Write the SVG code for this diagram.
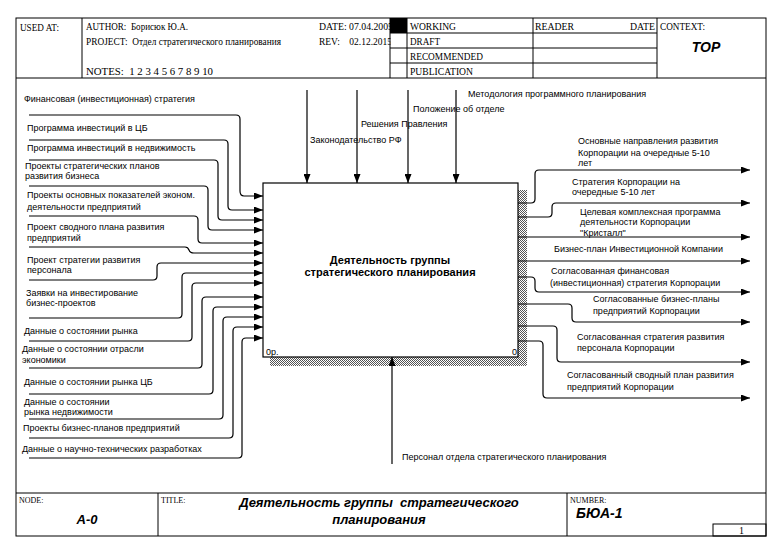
<svg xmlns="http://www.w3.org/2000/svg" width="781" height="553" viewBox="0 0 781 553">
<style>
.fr{fill:none;stroke:#000;stroke-width:1}
.hd{font-family:"Liberation Serif","Times New Roman",serif;font-size:10px;fill:#000}
.sm{font-family:"Liberation Serif","Times New Roman",serif;font-size:8px;fill:#000}
.lb{font-family:"Liberation Sans",Arial,sans-serif;font-size:9px;fill:#000}
.bt{font-family:"Liberation Sans",Arial,sans-serif;font-size:11px;font-weight:bold;fill:#000;text-anchor:middle}
.bi{font-family:"Liberation Sans",Arial,sans-serif;font-weight:bold;font-style:italic;fill:#000}
.cn{fill:none;stroke:#000;stroke-width:1.2}
</style>
<defs>
<marker id="ah" markerWidth="9" markerHeight="7" refX="9" refY="3.5" orient="auto" markerUnits="userSpaceOnUse"><path d="M0,0 L9,3.5 L0,7 z" fill="#000"/></marker>
<pattern id="dots" width="2" height="2" patternUnits="userSpaceOnUse"><rect width="2" height="2" fill="#fff"/><rect width="1" height="1" fill="#555"/><rect x="1" y="1" width="1" height="1" fill="#555"/></pattern>
</defs>
<rect width="781" height="553" fill="#fff"/>

<g id="frame">
<text class="hd" x="20" y="31" textLength="39" lengthAdjust="spacingAndGlyphs">USED AT:</text>
<text class="hd" x="86" y="30" textLength="102" lengthAdjust="spacingAndGlyphs" xml:space="preserve">AUTHOR:  Борисюк Ю.А.</text>
<text class="hd" x="86" y="45" textLength="195" lengthAdjust="spacingAndGlyphs" xml:space="preserve">PROJECT:  Отдел стратегического планирования</text>
<text class="hd" x="86" y="75" textLength="127" lengthAdjust="spacingAndGlyphs" xml:space="preserve">NOTES:  1 2 3 4 5 6 7 8 9 10</text>
<text class="hd" x="319" y="30" textLength="74" lengthAdjust="spacingAndGlyphs">DATE: 07.04.2005</text>
<text class="hd" x="319" y="45" textLength="73" lengthAdjust="spacingAndGlyphs" xml:space="preserve">REV:    02.12.2015</text>
<rect x="390" y="18" width="17" height="15" fill="#000"/>
<rect x="390.5" y="33.5" width="16" height="44" fill="#fff"/>
<text class="hd" x="410" y="30" textLength="46" lengthAdjust="spacingAndGlyphs">WORKING</text>
<text class="hd" x="410" y="45" textLength="30" lengthAdjust="spacingAndGlyphs">DRAFT</text>
<text class="hd" x="410" y="60" textLength="73" lengthAdjust="spacingAndGlyphs">RECOMMENDED</text>
<text class="hd" x="410" y="75" textLength="63" lengthAdjust="spacingAndGlyphs">PUBLICATION</text>
<text class="hd" x="535" y="30" textLength="39" lengthAdjust="spacingAndGlyphs">READER</text>
<text class="hd" x="630" y="30" textLength="25" lengthAdjust="spacingAndGlyphs">DATE</text>
<text class="hd" x="660" y="30" textLength="45" lengthAdjust="spacingAndGlyphs">CONTEXT:</text>
<text class="bi" x="706" y="52" font-size="14" text-anchor="middle">TOP</text>
<rect class="fr" x="16" y="18" width="750" height="518"/>
<path class="fr" d="M16 78H766M82 18V78M390 18V78M407 18V78M533 18V78M657 18V78M390 33H657M390 48H657M390 63H657"/>
<path class="fr" d="M16 493H766M158 493V536M567 493V536"/>
<rect class="fr" x="713" y="524" width="53" height="12"/>
<text class="sm" x="19" y="503">NODE:</text>
<text class="bi" x="87" y="524" font-size="13" text-anchor="middle">A-0</text>
<text class="sm" x="161" y="503">TITLE:</text>
<text class="bi" x="379" y="507" font-size="13" text-anchor="middle" xml:space="preserve">Деятельность группы  стратегического</text>
<text class="bi" x="379" y="524" font-size="13" text-anchor="middle">планирования</text>
<text class="sm" x="570" y="503">NUMBER:</text>
<text class="bi" x="576" y="518" font-size="14">БЮА-1</text>
<text class="hd" x="739" y="534">1</text>
</g>

<g id="node-A0">
<rect x="270" y="190" width="257" height="176" fill="url(#dots)"/>
<rect x="263" y="183" width="255" height="174" fill="#fff" stroke="#000" stroke-width="1.2"/>
<text class="bt" x="390" y="264">Деятельность группы</text>
<text class="bt" x="390" y="276">стратегического планирования</text>
<text class="lb" x="266" y="355" font-size="8">0р.</text>
<text class="lb" x="512" y="355" font-size="8">0</text>
</g>

<g id="connectors">
<path class="cn" marker-end="url(#ah)" d="M307 90V183"/>
<path class="cn" marker-end="url(#ah)" d="M357 90V183"/>
<path class="cn" marker-end="url(#ah)" d="M408 90V183"/>
<path class="cn" marker-end="url(#ah)" d="M456 90V183"/>
<path class="cn" marker-end="url(#ah)" d="M392 464V357"/>
<path class="cn" marker-end="url(#ah)" d="M29 115H236Q240 115 240 119V191Q240 196 244 196H263"/>
<path class="cn" marker-end="url(#ah)" d="M29 140H224Q228 140 228 144V206Q228 210 232 210H263"/>
<path class="cn" marker-end="url(#ah)" d="M29 160H214Q218 160 218 164V216Q218 220 222 220H263"/>
<path class="cn" marker-end="url(#ah)" d="M29 186H204Q208 186 208 190V226Q208 230 212 230H263"/>
<path class="cn" marker-end="url(#ah)" d="M29 216H194Q198 216 198 220V239Q198 243 202 243H263"/>
<path class="cn" marker-end="url(#ah)" d="M29 247H185Q188 247 189 250Q190 253 194 253H263"/>
<path class="cn" marker-end="url(#ah)" d="M29 280H153Q157 280 157 276V267Q157 263 161 263H263"/>
<path class="cn" marker-end="url(#ah)" d="M29 318H178Q182 318 182 314V277Q182 273 186 273H263"/>
<path class="cn" marker-end="url(#ah)" d="M29 341H188Q192 341 192 337V287Q192 283 196 283H263"/>
<path class="cn" marker-end="url(#ah)" d="M29 368H198Q202 368 202 364V301Q202 297 206 297H263"/>
<path class="cn" marker-end="url(#ah)" d="M29 394H209Q213 394 213 390V311Q213 307 217 307H263"/>
<path class="cn" marker-end="url(#ah)" d="M29 419H219Q223 419 223 415V321Q223 317 227 317H263"/>
<path class="cn" marker-end="url(#ah)" d="M29 438H229Q233 438 233 434V331Q233 327 237 327H263"/>
<path class="cn" marker-end="url(#ah)" d="M29 458H238Q242 458 242 454V342Q242 338 246 338H263"/>
<path class="cn" marker-end="url(#ah)" d="M518 203H531Q535 203 535 199V174Q535 170 539 170H750"/>
<path class="cn" marker-end="url(#ah)" d="M518 217H548Q552 217 552 213V207Q552 203 556 203H750"/>
<path class="cn" marker-end="url(#ah)" d="M518 237H750"/>
<path class="cn" marker-end="url(#ah)" d="M518 261H750"/>
<path class="cn" marker-end="url(#ah)" d="M518 277H531Q535 277 535 281V288Q535 292 539 292H750"/>
<path class="cn" marker-end="url(#ah)" d="M518 304H568Q572 304 572 308V318Q572 322 576 322H750"/>
<path class="cn" marker-end="url(#ah)" d="M518 326H553Q557 326 557 330V358Q557 362 561 362H750"/>
<path class="cn" marker-end="url(#ah)" d="M518 341H539Q543 341 543 345V394Q543 398 547 398H750"/>
</g>

<g id="labels">
<text class="lb" x="468" y="97">Методология программного планирования</text>
<text class="lb" x="413" y="112">Положение об отделе</text>
<text class="lb" x="361" y="127">Решения Правления</text>
<text class="lb" x="310" y="143">Законодательство РФ</text>
<text class="lb" x="402" y="460">Персонал отдела стратегического планирования</text>
<text class="lb" x="24" y="102">Финансовая (инвестиционная) стратегия</text>
<text class="lb" x="27" y="131">Программа инвестиций в ЦБ</text>
<text class="lb" x="27" y="151">Программа инвестиций в недвижимость</text>
<text class="lb" x="25" y="169">Проекты стратегических планов</text>
<text class="lb" x="25" y="179">развития бизнеса</text>
<text class="lb" x="27" y="198">Проекты основных показателей эконом.</text>
<text class="lb" x="27" y="210">деятельности предприятий</text>
<text class="lb" x="27" y="230">Проект сводного плана развития</text>
<text class="lb" x="27" y="241">предприятий</text>
<text class="lb" x="27" y="263">Проект стратегии развития</text>
<text class="lb" x="27" y="273">персонала</text>
<text class="lb" x="26" y="296">Заявки на инвестирование</text>
<text class="lb" x="26" y="306">бизнес-проектов</text>
<text class="lb" x="24" y="334">Данные о состоянии рынка</text>
<text class="lb" x="22" y="352">Данные о состоянии отрасли</text>
<text class="lb" x="22" y="363">экономики</text>
<text class="lb" x="24" y="385">Данные о состоянии рынка ЦБ</text>
<text class="lb" x="24" y="405">Данные о состоянии</text>
<text class="lb" x="24" y="415">рынка недвижимости</text>
<text class="lb" x="23" y="431">Проекты бизнес-планов предприятий</text>
<text class="lb" x="22" y="452">Данные о научно-технических разработках</text>
<text class="lb" x="578" y="144">Основные направления развития</text>
<text class="lb" x="578" y="156">Корпорации на очередные 5-10</text>
<text class="lb" x="578" y="166">лет</text>
<text class="lb" x="572" y="185">Стратегия Корпорации на</text>
<text class="lb" x="572" y="195">очередные 5-10 лет</text>
<text class="lb" x="580" y="215">Целевая комплексная программа</text>
<text class="lb" x="580" y="225">деятельности Корпорации</text>
<text class="lb" x="580" y="236">"Кристалл"</text>
<text class="lb" x="554" y="252">Бизнес-план Инвестиционной Компании</text>
<text class="lb" x="551" y="274">Согласованная финансовая</text>
<text class="lb" x="550" y="286">(инвестиционная) стратегия Корпорации</text>
<text class="lb" x="593" y="302">Согласованные бизнес-планы</text>
<text class="lb" x="593" y="314">предприятий Корпорации</text>
<text class="lb" x="577" y="340">Согласованная стратегия развития</text>
<text class="lb" x="577" y="351">персонала Корпорации</text>
<text class="lb" x="567" y="378">Согласованный сводный план развития</text>
<text class="lb" x="567" y="390">предприятий Корпорации</text>
</g>
</svg>
